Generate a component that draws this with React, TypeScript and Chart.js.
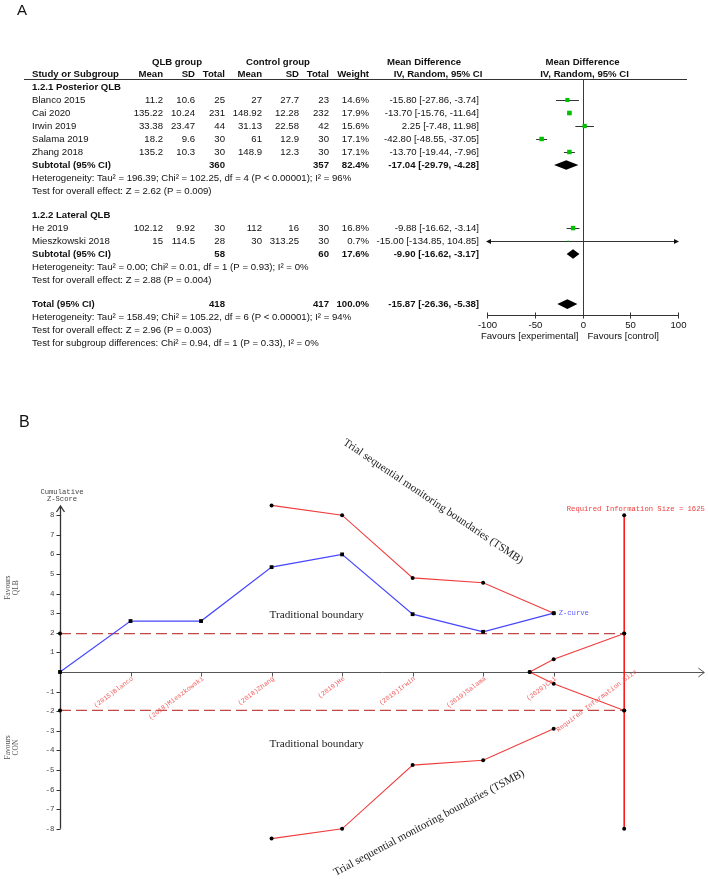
import React, { useEffect, useRef } from "react";
import { Chart, registerables } from "chart.js";

Chart.register(...registerables);

// ================= Panel A data (forest plot) =================
const subgroupHeaders = ["1.2.1 Posterior QLB", "1.2.2 Lateral QLB"];
const subgroupRows = [0, 9.85];

const studyNames = ["Blanco 2015", "Cai 2020", "Irwin 2019", "Salama 2019", "Zhang 2018", "He 2019", "Mieszkowski 2018"];
const studyRows = [1, 2, 3, 4, 5, 10.85, 11.85];
const qlbMean = [11.2, 135.22, 33.38, 18.2, 135.2, 102.12, 15];
const qlbSD = [10.6, 10.24, 23.47, 9.6, 10.3, 9.92, 114.5];
const qlbTotal = [25, 231, 44, 30, 30, 30, 28];
const conMean = [27, 148.92, 31.13, 61, 148.9, 112, 30];
const conSD = [27.7, 12.28, 22.58, 12.9, 12.3, 16, 313.25];
const conTotal = [23, 232, 42, 30, 30, 30, 30];
const studyWeight = [14.6, 17.9, 15.6, 17.1, 17.1, 16.8, 0.7];
const mdMean = [-15.8, -13.7, 2.25, -42.8, -13.7, -9.88, -15.0];
const mdLow = [-27.86, -15.76, -7.48, -48.55, -19.44, -16.62, -134.85];
const mdHigh = [-3.74, -11.64, 11.98, -37.05, -7.96, -3.14, 104.85];

const pooledLabels = ["Subtotal (95% CI)", "Subtotal (95% CI)", "Total (95% CI)"];
const pooledRows = [6, 12.85, 16.7];
const pooledQlbTotal = [360, 58, 418];
const pooledConTotal = [357, 60, 417];
const pooledWeight = [82.4, 17.6, 100.0];
const pooledMean = [-17.04, -9.9, -15.87];
const pooledLow = [-29.79, -16.62, -26.36];
const pooledHigh = [-4.28, -3.17, -5.38];

const noteLines = [
  "Heterogeneity: Tau\u00b2 = 196.39; Chi\u00b2 = 102.25, df = 4 (P < 0.00001); I\u00b2 = 96%",
  "Test for overall effect: Z = 2.62 (P = 0.009)",
  "Heterogeneity: Tau\u00b2 = 0.00; Chi\u00b2 = 0.01, df = 1 (P = 0.93); I\u00b2 = 0%",
  "Test for overall effect: Z = 2.88 (P = 0.004)",
  "Heterogeneity: Tau\u00b2 = 158.49; Chi\u00b2 = 105.22, df = 6 (P < 0.00001); I\u00b2 = 94%",
  "Test for overall effect: Z = 2.96 (P = 0.003)",
  "Test for subgroup differences: Chi\u00b2 = 0.94, df = 1 (P = 0.33), I\u00b2 = 0%",
];
const noteRows = [7, 8, 13.85, 14.85, 17.7, 18.7, 19.7];
const forestTicks = [-100, -50, 0, 50, 100];

// ================= Panel B data (TSA) =================
const trialLabels = ["(2015)Blanco", "(2018)Mieszkowski", "(2018)Zhang", "(2019)He", "(2019)Irwin", "(2019)Salama", "(2020)Cai", "Required Information Size"];
const trialPos = [1, 2, 3, 4, 5, 6, 7, 8];
const zCurveX = [0, 1, 2, 3, 4, 5, 6, 7];
const zCurveY = [0, 2.6, 2.6, 5.35, 6.0, 2.95, 2.05, 3.0];
const tsmbX = [3, 4, 5, 6, 7];
const tsmbUpperY = [8.5, 8.0, 4.8, 4.55, 3.0];
const tsmbLowerY = [-8.5, -8.0, -4.75, -4.5, -2.9];
const futilityX = [6.66, 7, 8];
const futilityUpperY = [0, 0.65, 1.96];
const futilityLowerY = [0, -0.6, -1.96];
const risX = [8, 8];
const risY = [8, -8];
const tradX = [0, 8];
const tradUpperY = [1.96, 1.96];
const tradLowerY = [-1.96, -1.96];
const zTicks = [-8, -7, -6, -5, -4, -3, -2, -1, 1, 2, 3, 4, 5, 6, 7, 8];

const SANS = "'Liberation Sans', Arial, Helvetica, sans-serif";
const SERIF = "'Liberation Serif', 'Times New Roman', serif";
const MONO = "'Liberation Mono', 'DejaVu Sans Mono', monospace";

const zip = (xs: number[], ys: number[]) => xs.map((x, i) => ({ x, y: ys[i] }));
const ci = (m: number, l: number, h: number) => `${m.toFixed(2)} [${l.toFixed(2)}, ${h.toFixed(2)}]`;

const forestPlugin = {
  id: "forestDecor",
  beforeDatasetsDraw(chart: any) {
    const { ctx, chartArea } = chart;
    const xs = chart.scales.x;
    const ys = chart.scales.y;
    ctx.save();
    ctx.lineWidth = 1;
    ctx.strokeStyle = "#3a3a3a";
    const x0 = Math.round(xs.getPixelForValue(0)) + 0.5;
    ctx.beginPath();
    ctx.moveTo(x0, chartArea.top);
    ctx.lineTo(x0, chartArea.bottom);
    ctx.stroke();
    studyNames.forEach((_, i) => {
      const yy = Math.round(ys.getPixelForValue(studyRows[i])) + 0.5;
      const lo = Math.max(mdLow[i], xs.min);
      const hi = Math.min(mdHigh[i], xs.max);
      const xl = xs.getPixelForValue(lo);
      const xr = xs.getPixelForValue(hi);
      ctx.strokeStyle = "#333";
      ctx.beginPath();
      ctx.moveTo(xl, yy);
      ctx.lineTo(xr, yy);
      ctx.stroke();
      ctx.fillStyle = "#111";
      if (mdLow[i] < xs.min) {
        ctx.beginPath();
        ctx.moveTo(xl - 1, yy);
        ctx.lineTo(xl + 4, yy - 2.5);
        ctx.lineTo(xl + 4, yy + 2.5);
        ctx.closePath();
        ctx.fill();
      }
      if (mdHigh[i] > xs.max) {
        ctx.beginPath();
        ctx.moveTo(xr + 1, yy);
        ctx.lineTo(xr - 4, yy - 2.5);
        ctx.lineTo(xr - 4, yy + 2.5);
        ctx.closePath();
        ctx.fill();
      }
    });
    ctx.restore();
  },
  afterDraw(chart: any) {
    const { ctx, chartArea } = chart;
    const xs = chart.scales.x;
    const ys = chart.scales.y;
    const R = (r: number) => ys.getPixelForValue(r);
    ctx.save();
    ctx.textBaseline = "middle";
    const ink = "#111";
    ctx.fillStyle = ink;
    const put = (s: string, x: number, y: number, align: CanvasTextAlign = "left", bold = false) => {
      ctx.font = `${bold ? "bold " : ""}9.6px ${SANS}`;
      ctx.textAlign = align;
      ctx.fillText(s, x, y);
    };
    ctx.font = `15px ${SANS}`;
    ctx.textAlign = "left";
    ctx.fillText("A", 17, 11);

    const xz = xs.getPixelForValue(0);
    const h1 = R(0) - 25;
    const h2 = R(0) - 13;
    put("QLB group", 177, h1, "center", true);
    put("Control group", 278, h1, "center", true);
    put("Mean Difference", 424, h1, "center", true);
    put("Mean Difference", xz, h1, "center", true);
    put("Study or Subgroup", 32, h2, "left", true);
    put("Mean", 163, h2, "right", true);
    put("SD", 195, h2, "right", true);
    put("Total", 225, h2, "right", true);
    put("Mean", 262, h2, "right", true);
    put("SD", 299, h2, "right", true);
    put("Total", 329, h2, "right", true);
    put("Weight", 369, h2, "right", true);
    put("IV, Random, 95% CI", 438, h2, "center", true);
    put("IV, Random, 95% CI", xz + 2, h2, "center", true);

    ctx.strokeStyle = "#333";
    ctx.lineWidth = 1;
    ctx.beginPath();
    ctx.moveTo(24, Math.round(chartArea.top) + 0.5);
    ctx.lineTo(687, Math.round(chartArea.top) + 0.5);
    ctx.stroke();

    subgroupHeaders.forEach((s, i) => put(s, 32, R(subgroupRows[i]), "left", true));
    studyNames.forEach((s, i) => {
      const y = R(studyRows[i]);
      put(s, 32, y);
      put(String(qlbMean[i]), 163, y, "right");
      put(String(qlbSD[i]), 195, y, "right");
      put(String(qlbTotal[i]), 225, y, "right");
      put(String(conMean[i]), 262, y, "right");
      put(String(conSD[i]), 299, y, "right");
      put(String(conTotal[i]), 329, y, "right");
      put(studyWeight[i].toFixed(1) + "%", 369, y, "right");
      put(ci(mdMean[i], mdLow[i], mdHigh[i]), 479, y, "right");
    });
    pooledLabels.forEach((s, i) => {
      const y = R(pooledRows[i]);
      put(s, 32, y, "left", true);
      put(String(pooledQlbTotal[i]), 225, y, "right", true);
      put(String(pooledConTotal[i]), 329, y, "right", true);
      put(pooledWeight[i].toFixed(1) + "%", 369, y, "right", true);
      put(ci(pooledMean[i], pooledLow[i], pooledHigh[i]), 479, y, "right", true);
      const xl = xs.getPixelForValue(pooledLow[i]);
      const xm = xs.getPixelForValue(pooledMean[i]);
      const xr = xs.getPixelForValue(pooledHigh[i]);
      ctx.fillStyle = "#000";
      ctx.beginPath();
      ctx.moveTo(xl, y);
      ctx.lineTo(xm, y - 4.8);
      ctx.lineTo(xr, y);
      ctx.lineTo(xm, y + 4.8);
      ctx.closePath();
      ctx.fill();
      ctx.fillStyle = ink;
    });
    noteLines.forEach((s, i) => put(s, 32, R(noteRows[i])));

    // forest x axis
    const ay = Math.round(chartArea.bottom) + 0.5;
    ctx.strokeStyle = "#333";
    ctx.beginPath();
    ctx.moveTo(xs.getPixelForValue(forestTicks[0]), ay);
    ctx.lineTo(xs.getPixelForValue(forestTicks[forestTicks.length - 1]), ay);
    ctx.stroke();
    forestTicks.forEach((t) => {
      const tx = Math.round(xs.getPixelForValue(t)) + 0.5;
      ctx.beginPath();
      ctx.moveTo(tx, ay - 3);
      ctx.lineTo(tx, ay + 3);
      ctx.stroke();
      put(String(t), tx, ay + 10, "center");
    });
    put("Favours [experimental]", xz - 4, ay + 21, "right");
    put("Favours [control]", xz + 5, ay + 21, "left");
    ctx.restore();
  },
};

const tsaPlugin = {
  id: "tsaDecor",
  beforeDatasetsDraw(chart: any) {
    const { ctx } = chart;
    const xs = chart.scales.x;
    const ys = chart.scales.y;
    const X = (v: number) => xs.getPixelForValue(v);
    const Y = (v: number) => ys.getPixelForValue(v);
    const ax = Math.round(X(0)) + 0.5;
    const ay = Math.round(Y(0)) + 0.5;
    ctx.save();
    // x axis with arrow
    ctx.strokeStyle = "#555";
    ctx.lineWidth = 1;
    const xEnd = X(xs.max) - 1;
    ctx.beginPath();
    ctx.moveTo(ax, ay);
    ctx.lineTo(xEnd, ay);
    ctx.moveTo(xEnd - 6, ay - 4.5);
    ctx.lineTo(xEnd, ay);
    ctx.lineTo(xEnd - 6, ay + 4.5);
    ctx.stroke();
    trialPos.slice(0, trialPos.length - 1).forEach((p) => {
      const tx = Math.round(X(p)) + 0.5;
      ctx.beginPath();
      ctx.moveTo(tx, ay);
      ctx.lineTo(tx, ay + 4);
      ctx.stroke();
    });
    // y axis with arrow
    ctx.strokeStyle = "#333";
    ctx.lineWidth = 1.3;
    const yTop = Y(8.47);
    ctx.beginPath();
    ctx.moveTo(ax, Y(zTicks[0]));
    ctx.lineTo(ax, yTop);
    ctx.moveTo(ax - 4, yTop + 6);
    ctx.lineTo(ax, yTop);
    ctx.lineTo(ax + 4, yTop + 6);
    ctx.stroke();
    ctx.lineWidth = 1;
    ctx.fillStyle = "#444";
    ctx.font = `7.5px ${MONO}`;
    ctx.textAlign = "right";
    ctx.textBaseline = "middle";
    zTicks.forEach((t) => {
      const ty = Math.round(Y(t)) + 0.5;
      ctx.beginPath();
      ctx.moveTo(ax - 4, ty);
      ctx.lineTo(ax, ty);
      ctx.stroke();
      ctx.fillText(String(t), ax - 6, ty);
    });
    ctx.restore();
  },
  afterDraw(chart: any) {
    const { ctx } = chart;
    const xs = chart.scales.x;
    const ys = chart.scales.y;
    const X = (v: number) => xs.getPixelForValue(v);
    const Y = (v: number) => ys.getPixelForValue(v);
    const ax = X(0);
    const ay = Y(0);
    ctx.save();
    ctx.textBaseline = "middle";
    // panel letter
    ctx.fillStyle = "#111";
    ctx.font = `16px ${SANS}`;
    ctx.textAlign = "left";
    ctx.fillText("B", 19, 63);

    // axis title
    ctx.fillStyle = "#444";
    ctx.font = `7.2px ${MONO}`;
    ctx.textAlign = "center";
    ctx.fillText("Cumulative", ax + 2, Y(8.47) - 14);
    ctx.fillText("Z-Score", ax + 2, Y(8.47) - 6.5);

    // favours labels (rotated)
    ctx.fillStyle = "#555";
    ctx.font = `7.5px ${SERIF}`;
    const fav = (lines: string[], cy: number) => {
      ctx.save();
      ctx.translate(12, cy);
      ctx.rotate(-Math.PI / 2);
      ctx.fillText(lines[0], 0, -3.5);
      ctx.fillText(lines[1], 0, 4);
      ctx.restore();
    };
    fav(["Favours", "QLB"], Y(4.3));
    fav(["Favours", "CON"], Y(-3.85));

    // x tick labels
    ctx.fillStyle = "#f25a5a";
    ctx.font = `6.6px ${MONO}`;
    ctx.textAlign = "right";
    trialLabels.forEach((s, i) => {
      const last = i === trialLabels.length - 1;
      ctx.save();
      ctx.translate(X(trialPos[i]) + (last ? 12 : 2), ay + (last ? -1 : 6));
      ctx.rotate((-37 * Math.PI) / 180);
      ctx.fillText(s, 0, 0);
      ctx.restore();
    });

    // Z-curve label
    ctx.fillStyle = "#5a5aff";
    ctx.font = `7.2px ${MONO}`;
    ctx.textAlign = "left";
    ctx.fillText("Z-curve", X(zCurveX[zCurveX.length - 1]) + 5, Y(zCurveY[zCurveY.length - 1]));

    // RIS label
    ctx.fillStyle = "#f03c3c";
    ctx.font = `7.2px ${MONO}`;
    ctx.textAlign = "right";
    ctx.fillText("Required Information Size = 1625", X(xs.max) - 0.5, Y(risY[0]) - 6);

    // traditional boundary labels
    ctx.fillStyle = "#1a1a1a";
    ctx.font = `11.2px ${SERIF}`;
    ctx.textAlign = "left";
    ctx.fillText("Traditional boundary", X(3) - 2, Y(2.9));
    ctx.fillText("Traditional boundary", X(3) - 2, Y(-3.67));

    // TSMB labels
    ctx.textAlign = "center";
    ctx.save();
    ctx.translate(433, Y(8.7));
    ctx.rotate((34 * Math.PI) / 180);
    ctx.fillText("Trial sequential monitoring boundaries (TSMB)", 0, 0);
    ctx.restore();
    ctx.save();
    ctx.translate(429, Y(-7.7));
    ctx.rotate((-28 * Math.PI) / 180);
    ctx.fillText("Trial sequential monitoring boundaries (TSMB)", 0, 0);
    ctx.restore();
    ctx.restore();
  },
};

export default function App() {
  const refA = useRef<HTMLCanvasElement | null>(null);
  const refB = useRef<HTMLCanvasElement | null>(null);

  useEffect(() => {
    if (!refA.current || !refB.current) return;
    const chartA = new Chart(refA.current, {
      type: "scatter",
      data: {
        datasets: [
          {
            data: zip(mdMean, studyRows),
            pointStyle: "rect",
            pointRadius: studyWeight.map((w) => Math.max(1.1, Math.sqrt(w)) / 1.3),
            pointBackgroundColor: "#00c000",
            pointBorderWidth: 0,
            pointHoverRadius: 0,
          },
        ],
      },
      options: {
        animation: false,
        responsive: false,
        events: [],
        layout: { padding: { left: 487, right: 30, top: 79, bottom: 45 } },
        scales: {
          x: { type: "linear", min: -100, max: 100, display: false },
          y: { type: "linear", min: -0.6154, max: 17.538, reverse: true, display: false },
        },
        plugins: { legend: { display: false }, tooltip: { enabled: false } },
      },
      plugins: [forestPlugin],
    } as any);

    const red = "#f03c3c";
    const base = { showLine: true, tension: 0, clip: false, pointBorderWidth: 0, pointBackgroundColor: "#000", pointHoverRadius: 0 };
    const chartB = new Chart(refB.current, {
      type: "scatter",
      data: {
        datasets: [
          { ...base, label: "Z-curve", data: zip(zCurveX, zCurveY), borderColor: "#4646ff", borderWidth: 1.2, pointStyle: "rect", pointRadius: 2.7 },
          { ...base, label: "Upper TSMB", data: zip(tsmbX, tsmbUpperY), borderColor: red, borderWidth: 1.1, pointRadius: 2 },
          { ...base, label: "Lower TSMB", data: zip(tsmbX, tsmbLowerY), borderColor: red, borderWidth: 1.1, pointRadius: 2 },
          { ...base, label: "Futility upper", data: zip(futilityX, futilityUpperY), borderColor: red, borderWidth: 1.1, pointRadius: 2 },
          { ...base, label: "Futility lower", data: zip(futilityX, futilityLowerY), borderColor: red, borderWidth: 1.1, pointRadius: 2 },
          { ...base, label: "RIS", data: zip(risX, risY), borderColor: "#ff1a1a", borderWidth: 1.6, pointRadius: 2 },
          { ...base, label: "Traditional upper", data: zip(tradX, tradUpperY), borderColor: "#c04848", borderWidth: 1.3, borderDash: [11, 5], pointRadius: 2 },
          { ...base, label: "Traditional lower", data: zip(tradX, tradLowerY), borderColor: "#c04848", borderWidth: 1.3, borderDash: [11, 5], pointRadius: 2 },
        ],
      },
      options: {
        animation: false,
        responsive: false,
        events: [],
        layout: { padding: { left: 60, right: 1.8, top: 135.6, bottom: 11 } },
        scales: {
          x: { type: "linear", min: 0, max: 9.15, display: false },
          y: { type: "linear", min: -10, max: 9, display: false },
        },
        plugins: { legend: { display: false }, tooltip: { enabled: false } },
      },
      plugins: [tsaPlugin],
    } as any);

    return () => {
      chartA.destroy();
      chartB.destroy();
    };
  }, []);

  return (
    <div style={{ position: "absolute", left: 0, top: 0, width: 708, height: 879, background: "#fff" }}>
      <canvas ref={refA} width={708} height={360} style={{ position: "absolute", left: 0, top: 0, width: 708, height: 360 }} />
      <canvas ref={refB} width={708} height={519} style={{ position: "absolute", left: 0, top: 360, width: 708, height: 519 }} />
    </div>
  );
}
